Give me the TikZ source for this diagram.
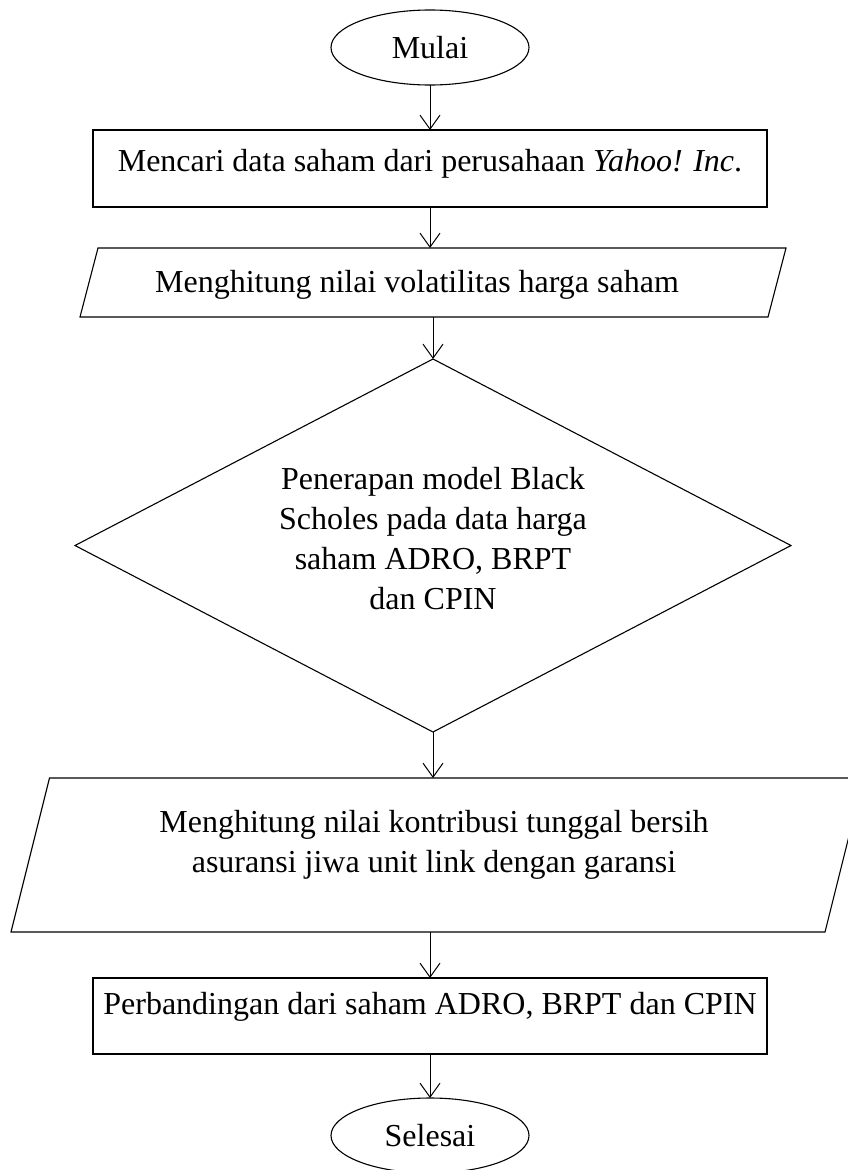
\documentclass[tikz,border=0pt]{standalone}
\usepackage{fontspec}
\setmainfont{Liberation Serif}
\usetikzlibrary{shapes.geometric,arrows.meta}
\begin{document}
\begin{tikzpicture}[x=1pt,y=-1pt,
  every node/.style={inner sep=0pt, outer sep=0pt},
  shapeline/.style={draw=black, line width=1.1pt},
  bigfont/.style={font=\fontsize{32}{40}\selectfont},
  terminal/.style={shapeline, ellipse, bigfont, minimum width=198pt, minimum height=75pt},
  procbox/.style={shapeline, rectangle, minimum width=674pt, minimum height=77pt},
  decision/.style={shapeline, diamond, aspect=1.92, minimum width=716pt, minimum height=373pt},
  txt/.style={bigfont, align=center},
  arr/.style={line width=1pt, -{Straight Barb[length=14pt,width=20pt,line width=1pt]}}
]
\useasboundingbox (0,0) rectangle (848,1170);

% shapes
\node[terminal] (start) at (430,47.5) {Mulai};
\node[procbox] (b1) at (430,168.5) {};
\node[minimum width=688pt, minimum height=69pt] (p1) at (433,282.5) {};
\draw[shapeline] ([xshift=9pt]p1.north west) -- ([xshift=9pt]p1.north east)
  -- ([xshift=-9pt]p1.south east) -- ([xshift=-9pt]p1.south west) -- cycle;
\node[decision] (d) at (433,545.5) {};
\node[minimum width=814pt, minimum height=154pt] (p2) at (437.25,855) {};
\draw[shapeline] ([xshift=19.25pt]p2.north west) -- ([xshift=19.25pt]p2.north east)
  -- ([xshift=-19.25pt]p2.south east) -- ([xshift=-19.25pt]p2.south west) -- cycle;
\node[procbox, minimum height=76pt] (b2) at (430,1016) {};
\node[terminal] (end) at (430,1135.5) {Selesai};

% texts
\node[txt, anchor=base] (t1) at (430,171.5) {Mencari data saham dari perusahaan \textit{Yahoo! Inc}.};
\node[txt, anchor=base] (t2) at (417,292.5) {Menghitung nilai volatilitas harga saham};
\node[txt, anchor=north] (t3) at (433,467) {Penerapan model Black\\Scholes pada data harga\\saham ADRO, BRPT\\dan CPIN};
\node[txt, anchor=north] (t4) at (434,810) {Menghitung nilai kontribusi tunggal bersih\\asuransi jiwa unit link dengan garansi};
\node[txt, anchor=base] (t5) at (430,1014) {Perbandingan dari saham ADRO, BRPT dan CPIN};

% connectors
\draw[arr] (start.south) -- (start.south |- b1.north);
\draw[arr] (b1.south) -- (b1.south |- p1.north);
\draw[arr] (d.north |- p1.south) -- (d.north);
\draw[arr] (d.south) -- (d.south |- p2.north);
\draw[arr] (b2.north |- p2.south) -- (b2.north);
\draw[arr] (b2.south) -- (b2.south |- end.north);
\end{tikzpicture}
\end{document}
